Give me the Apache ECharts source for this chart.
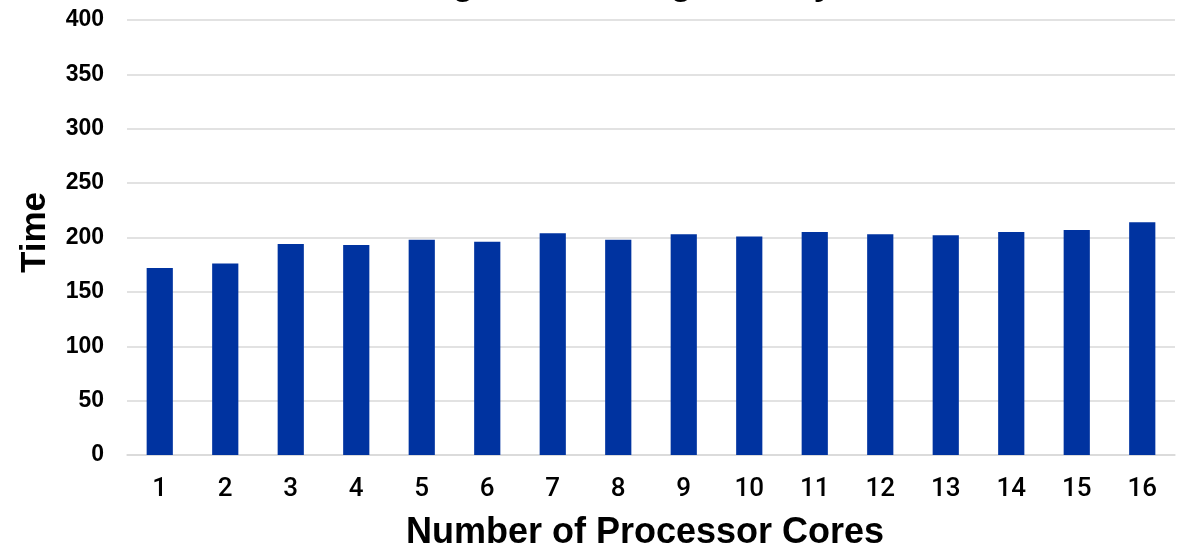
<!DOCTYPE html>
<html>
<head>
<meta charset="utf-8">
<script src="https://cdn.jsdelivr.net/npm/echarts@6/dist/echarts.min.js"></script>
<style>html,body{margin:0;padding:0;background:#fff;overflow:hidden;}#c{width:1191px;height:550px;}</style>
</head>
<body>
<div id="c"></div>
<script>
const titleText = "Average Processing Time by Core Count";
const categories = ["1","2","3","4","5","6","7","8","9","10","11","12","13","14","15","16"];
const timeValues = [172, 176, 194, 193, 198, 196, 204, 198, 203, 201, 205, 203, 202, 205, 207, 214];
const yMin = 0, yMax = 400, yStep = 50;

const chart = echarts.init(document.getElementById('c'), null, {renderer: 'canvas'});
chart.setOption({
  animation: false,
  backgroundColor: '#ffffff',
  title: {
    text: titleText,
    left: 690,
    textAlign: 'center',
    top: -37,
    textStyle: {fontFamily: 'Liberation Sans, Arial, sans-serif', fontWeight: 'bold', fontSize: 35, color: '#000'}
  },
  grid: {left: 127, right: 16, top: 20, bottom: 95, containLabel: false, outerBoundsMode: 'none'},
  xAxis: {
    type: 'category',
    data: categories,
    name: 'Number of Processor Cores',
    nameLocation: 'middle',
    nameGap: 60,
    nameTextStyle: {fontFamily: 'Liberation Sans, Arial, sans-serif', fontWeight: 'bold', fontSize: 36, color: '#000', padding: [0, 12, 0, 0]},
    axisLine: {show: true, lineStyle: {color: '#d9d9d9', width: 1.5}},
    axisTick: {show: false},
    axisLabel: {margin: 21, fontFamily: 'Roboto, sans-serif', fontWeight: 500, fontSize: 26, color: '#000'}
  },
  yAxis: {
    type: 'value',
    min: yMin, max: yMax, interval: yStep,
    name: 'Time',
    nameLocation: 'middle',
    nameGap: 74,
    nameTextStyle: {fontFamily: 'Liberation Sans, Arial, sans-serif', fontWeight: 'bold', fontSize: 35, color: '#000', padding: [0, 0, 0, 10]},
    axisLine: {show: false},
    axisTick: {show: false},
    splitLine: {show: true, lineStyle: {color: '#d9d9d9', width: 1.5}},
    axisLabel: {margin: 23, fontFamily: 'Liberation Sans, Arial, sans-serif', fontWeight: 'bold', fontSize: 23, color: '#000'}
  },
  series: [{
    type: 'bar',
    data: timeValues,
    barWidth: '40%',
    itemStyle: {color: '#0033A0'}
  }]
});
</script>
</body>
</html>
